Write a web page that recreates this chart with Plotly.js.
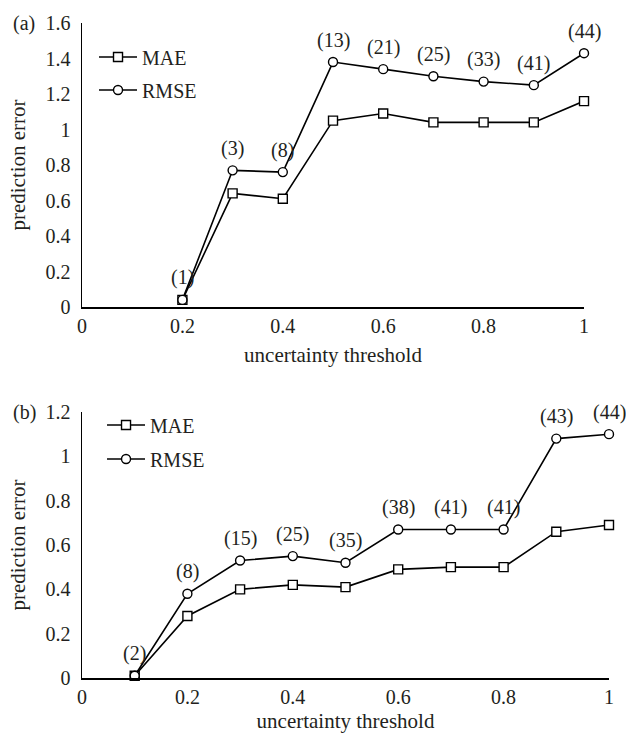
<!DOCTYPE html>
<html>
<head>
<meta charset="utf-8">
<script src="https://cdn.plot.ly/plotly-3.0.1.min.js"></script>
<style>html,body{margin:0;padding:0;background:#fff;}#chart{width:626px;height:733px;}</style>
</head>
<body>
<div id="chart"></div>
<script>
// Panel (a)
var thresholdA = [0.2, 0.3, 0.4, 0.5, 0.6, 0.7, 0.8, 0.9, 1.0];
var maeA = [0.04, 0.64, 0.61, 1.05, 1.09, 1.04, 1.04, 1.04, 1.16];
var rmseA = [0.04, 0.77, 0.76, 1.38, 1.34, 1.30, 1.27, 1.25, 1.43];
var countsA = ["(1)", "(3)", "(8)", "(13)", "(21)", "(25)", "(33)", "(41)", "(44)"];

// Panel (b)
var thresholdB = [0.1, 0.2, 0.3, 0.4, 0.5, 0.6, 0.7, 0.8, 0.9, 1.0];
var maeB = [0.01, 0.28, 0.40, 0.42, 0.41, 0.49, 0.50, 0.50, 0.66, 0.69];
var rmseB = [0.01, 0.38, 0.53, 0.55, 0.52, 0.67, 0.67, 0.67, 1.08, 1.10];
var countsB = ["(2)", "(8)", "(15)", "(25)", "(35)", "(38)", "(41)", "(41)", "(43)", "(44)"];

var seriesNames = ["MAE", "RMSE"];
var panelLabels = ["(a)", "(b)"];
var xTitle = "uncertainty threshold";
var yTitle = "prediction error";

var FONT = "Liberation Serif";
var TXT = "#231f20";
var FS = 20;

function mk(x, y, name, sym, xa, ya, leg) {
  return {
    x: x, y: y, name: name, type: "scatter", mode: "lines+markers",
    xaxis: xa, yaxis: ya, legend: leg, showlegend: true,
    line: {color: "#000", width: 1.6},
    marker: {symbol: sym, size: 9, color: "#fff", line: {color: "#000", width: 1.4}},
    cliponaxis: false
  };
}

var data = [
  mk(thresholdA, maeA, seriesNames[0], "square", "x", "y", "legend"),
  mk(thresholdA, rmseA, seriesNames[1], "circle", "x", "y", "legend2"),
  mk(thresholdB, maeB, seriesNames[0], "square", "x2", "y2", "legend3"),
  mk(thresholdB, rmseB, seriesNames[1], "circle", "x2", "y2", "legend4")
];

var annotations = [];
thresholdA.forEach(function (t, i) {
  annotations.push({x: t, y: rmseA[i], xref: "x", yref: "y", text: countsA[i], showarrow: false,
    yshift: 22, font: {family: FONT, size: FS, color: TXT}});
});
thresholdB.forEach(function (t, i) {
  annotations.push({x: t, y: rmseB[i], xref: "x2", yref: "y2", text: countsB[i], showarrow: false,
    yshift: 22, font: {family: FONT, size: FS, color: TXT}});
});
annotations.push({x: 0, y: 1.6, xref: "paper", yref: "y", xanchor: "left", xshift: -71, text: panelLabels[0], showarrow: false, font: {family: FONT, size: FS, color: TXT}});
annotations.push({x: 0, y: 1.2, xref: "paper", yref: "y2", xanchor: "left", xshift: -71, text: panelLabels[1], showarrow: false, font: {family: FONT, size: FS, color: TXT}});

function xax(domain, anchor) {
  return {
    domain: domain, anchor: anchor, range: [0, 1], dtick: 0.2, tick0: 0,
    showline: true, linecolor: "#000", linewidth: 1.5, ticks: "", showgrid: false, zeroline: false,
    tickfont: {family: FONT, size: FS, color: TXT},
    title: {text: xTitle, font: {family: FONT, size: 21, color: TXT}, standoff: 12},
    automargin: false
  };
}
function yax(domain, anchor, top) {
  return {
    domain: domain, anchor: anchor, range: [0, top], dtick: 0.2, tick0: 0,
    showline: true, linecolor: "#000", linewidth: 1.5, ticks: "", showgrid: false, zeroline: false,
    ticklabelstandoff: 6,
    tickfont: {family: FONT, size: FS, color: TXT},
    title: {text: yTitle, font: {family: FONT, size: 21, color: TXT}, standoff: 14},
    automargin: false
  };
}

function leg(x, y) {
  return {x: x, y: y, xanchor: "left", yanchor: "middle", bgcolor: "rgba(0,0,0,0)",
    itemwidth: 38, font: {family: FONT, size: FS, color: TXT}};
}

var layout = {
  width: 626, height: 733,
  margin: {l: 82, r: 17, t: 23, b: 55},
  paper_bgcolor: "#fff", plot_bgcolor: "#fff",
  font: {family: FONT, size: FS, color: TXT},
  xaxis: xax([0, 0.9526], "y"),
  yaxis: yax([0.5664, 1], "x", 1.6),
  xaxis2: xax([0, 1], "y2"),
  yaxis2: yax([0, 0.4061], "x2", 1.2),
  legend: leg(0.0228, 0.948),
  legend2: leg(0.0228, 0.8977),
  legend3: leg(0.038, 0.3863),
  legend4: leg(0.038, 0.3344),
  annotations: annotations,
  showlegend: true
};

Plotly.newPlot("chart", data, layout, {displayModeBar: false, staticPlot: true});
</script>
</body>
</html>
